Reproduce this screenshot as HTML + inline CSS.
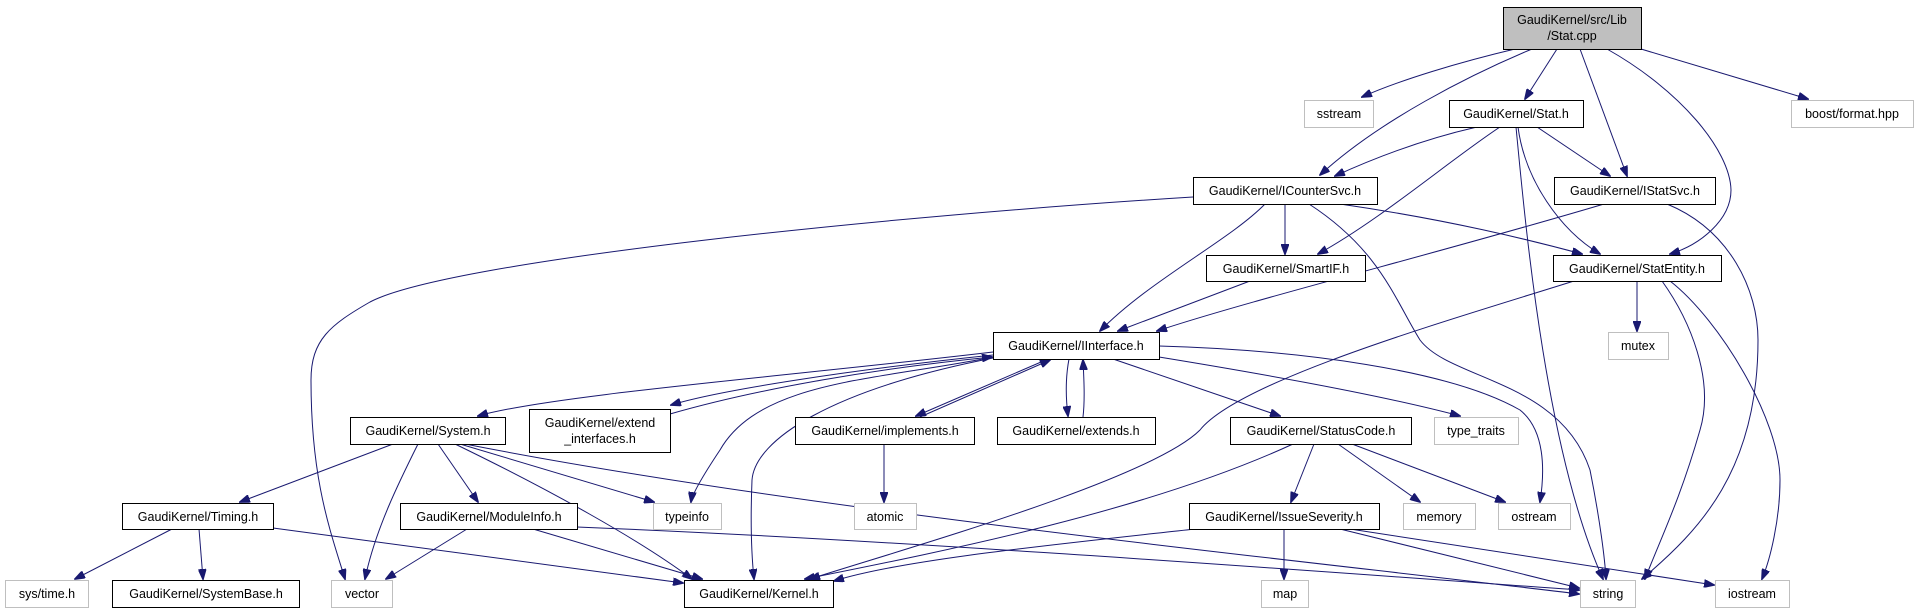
<!DOCTYPE html>
<html><head><meta charset="utf-8"><style>
html,body{margin:0;padding:0;background:#fff;}
svg{display:block;}
text{font-family:"Liberation Sans",sans-serif;font-size:12.5px;fill:#000;}
.e{fill:none;stroke:#191970;stroke-width:1;}
.b{fill:#fff;stroke:#000;stroke-width:1;}
.g{fill:#fff;stroke:#bfbfbf;stroke-width:1;}
</style></head><body>
<svg width="1919" height="613" viewBox="0 0 1919 613" xmlns="http://www.w3.org/2000/svg">
<defs><marker id="a" markerWidth="11" markerHeight="8" refX="10" refY="4" orient="auto" markerUnits="userSpaceOnUse"><path d="M0,0 L11,4 L0,8 z" fill="#191970" stroke="#191970"/></marker></defs>
<g class="e" marker-end="url(#a)">
<path d="M1515,49 C1460,62 1400,80 1362,97"/>
<path d="M1532,49 C1470,75 1380,120 1320,175"/>
<path d="M1557,49 L1525,99"/>
<path d="M1580,49 L1627,176"/>
<path d="M1607,49 C1680,90 1730,150 1731,190 C1731,220 1700,245 1670,254"/>
<path d="M1641,49 L1808,99"/>
<path d="M1477,127 C1420,140 1370,160 1335,176"/>
<path d="M1500,127 C1450,160 1380,220 1318,254"/>
<path d="M1516,127 C1525,220 1545,450 1603,579"/>
<path d="M1518,127 C1525,180 1560,230 1600,254"/>
<path d="M1537,127 L1610,176"/>
<path d="M1193,197 C900,215 450,260 370,302 C330,325 311,340 311,380 C311,480 330,530 345,579"/>
<path d="M1265,204 C1230,240 1150,280 1100,331"/>
<path d="M1285,204 L1285,254"/>
<path d="M1309,204 C1380,250 1395,300 1420,340 C1450,380 1560,380 1590,470 C1600,520 1605,560 1606,579"/>
<path d="M1340,204 C1450,220 1530,240 1582,254"/>
<path d="M1604,204 C1450,250 1250,300 1157,331"/>
<path d="M1667,204 C1730,230 1758,290 1758,340 C1758,470 1700,530 1642,579"/>
<path d="M1574,281 C1450,320 1240,380 1200,430 C1150,480 900,550 810,579"/>
<path d="M1637,281 L1637,331"/>
<path d="M1662,281 C1690,320 1715,380 1700,430 C1680,500 1660,540 1645,579"/>
<path d="M1670,281 C1720,320 1780,420 1780,480 C1780,520 1770,560 1762,579"/>
<path d="M1250,281 L1118,331"/>
<path d="M993,352 C800,375 550,395 478,416"/>
<path d="M993,355 C850,370 720,390 671,405"/>
<path d="M670,414 C760,388 880,368 992,357"/>
<path d="M993,357 C880,380 760,380 720,450 C700,480 692,495 691,502"/>
<path d="M993,358 C830,390 755,440 752,480 C750,530 752,560 754,579"/>
<path d="M1048,359 L916,416"/>
<path d="M920,417 L1050,360"/>
<path d="M1069,359 C1065,380 1066,400 1068,416"/>
<path d="M1083,417 C1085,400 1084,380 1083,360"/>
<path d="M1113,359 L1280,416"/>
<path d="M1159,357 C1300,380 1400,400 1460,416"/>
<path d="M1159,346 C1300,350 1450,370 1520,410 C1545,430 1545,470 1540,502"/>
<path d="M393,444 L240,502"/>
<path d="M418,444 C400,480 375,530 365,579"/>
<path d="M438,444 L478,502"/>
<path d="M460,444 L654,502"/>
<path d="M455,444 C550,490 640,540 692,579"/>
<path d="M465,444 C800,510 1300,560 1579,594"/>
<path d="M172,529 L75,579"/>
<path d="M199,529 L203,579"/>
<path d="M273,528 L683,583"/>
<path d="M467,529 L386,579"/>
<path d="M533,529 L702,579"/>
<path d="M577,527 C900,540 1300,570 1579,590"/>
<path d="M884,444 L884,502"/>
<path d="M1293,444 C1150,510 950,550 805,579"/>
<path d="M1314,444 L1291,502"/>
<path d="M1338,444 L1420,502"/>
<path d="M1352,444 L1505,502"/>
<path d="M1195,529 C1050,545 900,560 834,581"/>
<path d="M1284,529 L1284,579"/>
<path d="M1340,529 L1579,588"/>
<path d="M1350,529 L1714,585"/>
</g>
<rect x="1503.5" y="7.5" width="138" height="42" fill="#bfbfbf" stroke="#000"/>
<text x="1572" y="24" text-anchor="middle">GaudiKernel/src/Lib</text>
<text x="1572" y="40" text-anchor="middle">/Stat.cpp</text>
<g>
<rect class="g" x="1304.5" y="100.5" width="69" height="27"/><text x="1339" y="118" text-anchor="middle">sstream</text>
<rect class="b" x="1449.5" y="100.5" width="134" height="27"/><text x="1516" y="118" text-anchor="middle">GaudiKernel/Stat.h</text>
<rect class="g" x="1791.5" y="100.5" width="122" height="27"/><text x="1852" y="118" text-anchor="middle">boost/format.hpp</text>
<rect class="b" x="1193.5" y="177.5" width="184" height="27"/><text x="1285" y="195" text-anchor="middle">GaudiKernel/ICounterSvc.h</text>
<rect class="b" x="1554.5" y="177.5" width="161" height="27"/><text x="1635" y="195" text-anchor="middle">GaudiKernel/IStatSvc.h</text>
<rect class="b" x="1206.5" y="255.5" width="159" height="26"/><text x="1286" y="273" text-anchor="middle">GaudiKernel/SmartIF.h</text>
<rect class="b" x="1553.5" y="255.5" width="168" height="26"/><text x="1637" y="273" text-anchor="middle">GaudiKernel/StatEntity.h</text>
<rect class="b" x="993.5" y="332.5" width="166" height="27"/><text x="1076" y="350" text-anchor="middle">GaudiKernel/IInterface.h</text>
<rect class="g" x="1608.5" y="332.5" width="60" height="27"/><text x="1638" y="350" text-anchor="middle">mutex</text>
<rect class="b" x="350.5" y="417.5" width="155" height="27"/><text x="428" y="435" text-anchor="middle">GaudiKernel/System.h</text>
<rect class="b" x="529.5" y="409.5" width="141" height="43"/><text x="600" y="427" text-anchor="middle">GaudiKernel/extend</text><text x="600" y="443" text-anchor="middle">_interfaces.h</text>
<rect class="b" x="795.5" y="417.5" width="179" height="27"/><text x="885" y="435" text-anchor="middle">GaudiKernel/implements.h</text>
<rect class="b" x="997.5" y="417.5" width="158" height="27"/><text x="1076" y="435" text-anchor="middle">GaudiKernel/extends.h</text>
<rect class="b" x="1230.5" y="417.5" width="181" height="27"/><text x="1321" y="435" text-anchor="middle">GaudiKernel/StatusCode.h</text>
<rect class="g" x="1434.5" y="417.5" width="84" height="27"/><text x="1476" y="435" text-anchor="middle">type_traits</text>
<rect class="b" x="122.5" y="503.5" width="151" height="26"/><text x="198" y="521" text-anchor="middle">GaudiKernel/Timing.h</text>
<rect class="b" x="400.5" y="503.5" width="177" height="26"/><text x="489" y="521" text-anchor="middle">GaudiKernel/ModuleInfo.h</text>
<rect class="g" x="653.5" y="503.5" width="68" height="26"/><text x="687" y="521" text-anchor="middle">typeinfo</text>
<rect class="g" x="854.5" y="503.5" width="62" height="26"/><text x="885" y="521" text-anchor="middle">atomic</text>
<rect class="b" x="1189.5" y="503.5" width="190" height="26"/><text x="1284" y="521" text-anchor="middle">GaudiKernel/IssueSeverity.h</text>
<rect class="g" x="1403.5" y="503.5" width="72" height="26"/><text x="1439" y="521" text-anchor="middle">memory</text>
<rect class="g" x="1498.5" y="503.5" width="72" height="26"/><text x="1534" y="521" text-anchor="middle">ostream</text>
<rect class="g" x="5.5" y="580.5" width="83" height="27"/><text x="47" y="598" text-anchor="middle">sys/time.h</text>
<rect class="b" x="112.5" y="580.5" width="187" height="27"/><text x="206" y="598" text-anchor="middle">GaudiKernel/SystemBase.h</text>
<rect class="g" x="331.5" y="580.5" width="61" height="27"/><text x="362" y="598" text-anchor="middle">vector</text>
<rect class="b" x="684.5" y="580.5" width="149" height="27"/><text x="759" y="598" text-anchor="middle">GaudiKernel/Kernel.h</text>
<rect class="g" x="1261.5" y="580.5" width="47" height="27"/><text x="1285" y="598" text-anchor="middle">map</text>
<rect class="g" x="1580.5" y="580.5" width="55" height="27"/><text x="1608" y="598" text-anchor="middle">string</text>
<rect class="g" x="1715.5" y="580.5" width="74" height="27"/><text x="1752" y="598" text-anchor="middle">iostream</text>
</g>
</svg>
</body></html>
